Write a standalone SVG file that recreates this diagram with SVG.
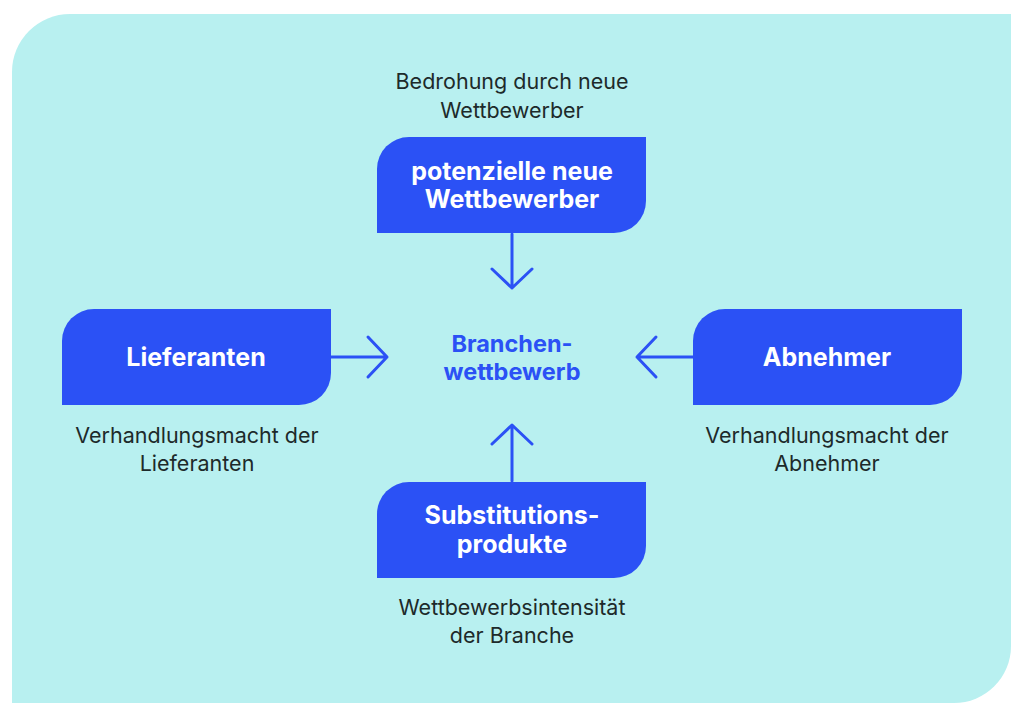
<svg xmlns="http://www.w3.org/2000/svg" width="1024" height="718" viewBox="0 0 1024 718">
<defs>
<style>
.node{fill:#2b51f5}
.nt{font-family:Inter,"Liberation Sans",sans-serif;font-weight:700;font-size:25px;fill:#ffffff;text-anchor:middle}
.lb{font-family:Inter,"Liberation Sans",sans-serif;font-weight:400;font-size:21.5px;fill:#1d2a2a;text-anchor:middle}
.ct{font-family:Inter,"Liberation Sans",sans-serif;font-weight:700;font-size:23.5px;fill:#2b51f5;text-anchor:middle}
.conn{fill:none;stroke:#2b51f5;stroke-width:3;stroke-linecap:round;stroke-linejoin:round}
</style>
</defs>
<rect width="1024" height="718" fill="#ffffff"/>
<path d="M70,14 H1011 V646 A57,57 0 0 1 954,703 H12 V72 A58,58 0 0 1 70,14 Z" fill="#b8f0f0"/>

<g id="connectors">
<path class="conn" d="M512,234 V288 M492,269 L512,288 L532,269"/>
<path class="conn" d="M331,357 H387 M368,337 L387,357 L368,377"/>
<path class="conn" d="M693,357 H637 M656,337 L637,357 L656,377"/>
<path class="conn" d="M512,481 V425 M492,444 L512,425 L532,444"/>
</g>

<g id="node-top">
<path class="node" d="M409,137 H646 V201 A32,32 0 0 1 614,233 H377 V169 A32,32 0 0 1 409,137 Z"/>
<text class="nt" x="512" y="180">potenzielle neue</text>
<text class="nt" x="512" y="208">Wettbewerber</text>
</g>
<g id="label-top">
<text class="lb" x="512" y="89">Bedrohung durch neue</text>
<text class="lb" x="512" y="118">Wettbewerber</text>
</g>

<g id="node-left">
<path class="node" d="M94,309 H331 V373 A32,32 0 0 1 299,405 H62 V341 A32,32 0 0 1 94,309 Z"/>
<text class="nt" x="196" y="366">Lieferanten</text>
</g>
<g id="label-left">
<text class="lb" x="197" y="443">Verhandlungsmacht der</text>
<text class="lb" x="197" y="471">Lieferanten</text>
</g>

<g id="node-right">
<path class="node" d="M725,309 H962 V373 A32,32 0 0 1 930,405 H693 V341 A32,32 0 0 1 725,309 Z"/>
<text class="nt" x="827" y="366">Abnehmer</text>
</g>
<g id="label-right">
<text class="lb" x="827" y="443">Verhandlungsmacht der</text>
<text class="lb" x="827" y="471">Abnehmer</text>
</g>

<g id="node-bottom">
<path class="node" d="M409,482 H646 V546 A32,32 0 0 1 614,578 H377 V514 A32,32 0 0 1 409,482 Z"/>
<text class="nt" x="512" y="524">Substitutions-</text>
<text class="nt" x="512" y="553">produkte</text>
</g>
<g id="label-bottom">
<text class="lb" x="512" y="615">Wettbewerbsintensität</text>
<text class="lb" x="512" y="643">der Branche</text>
</g>

<g id="node-center">
<text class="ct" x="512" y="352">Branchen-</text>
<text class="ct" x="512" y="380">wettbewerb</text>
</g>
</svg>
